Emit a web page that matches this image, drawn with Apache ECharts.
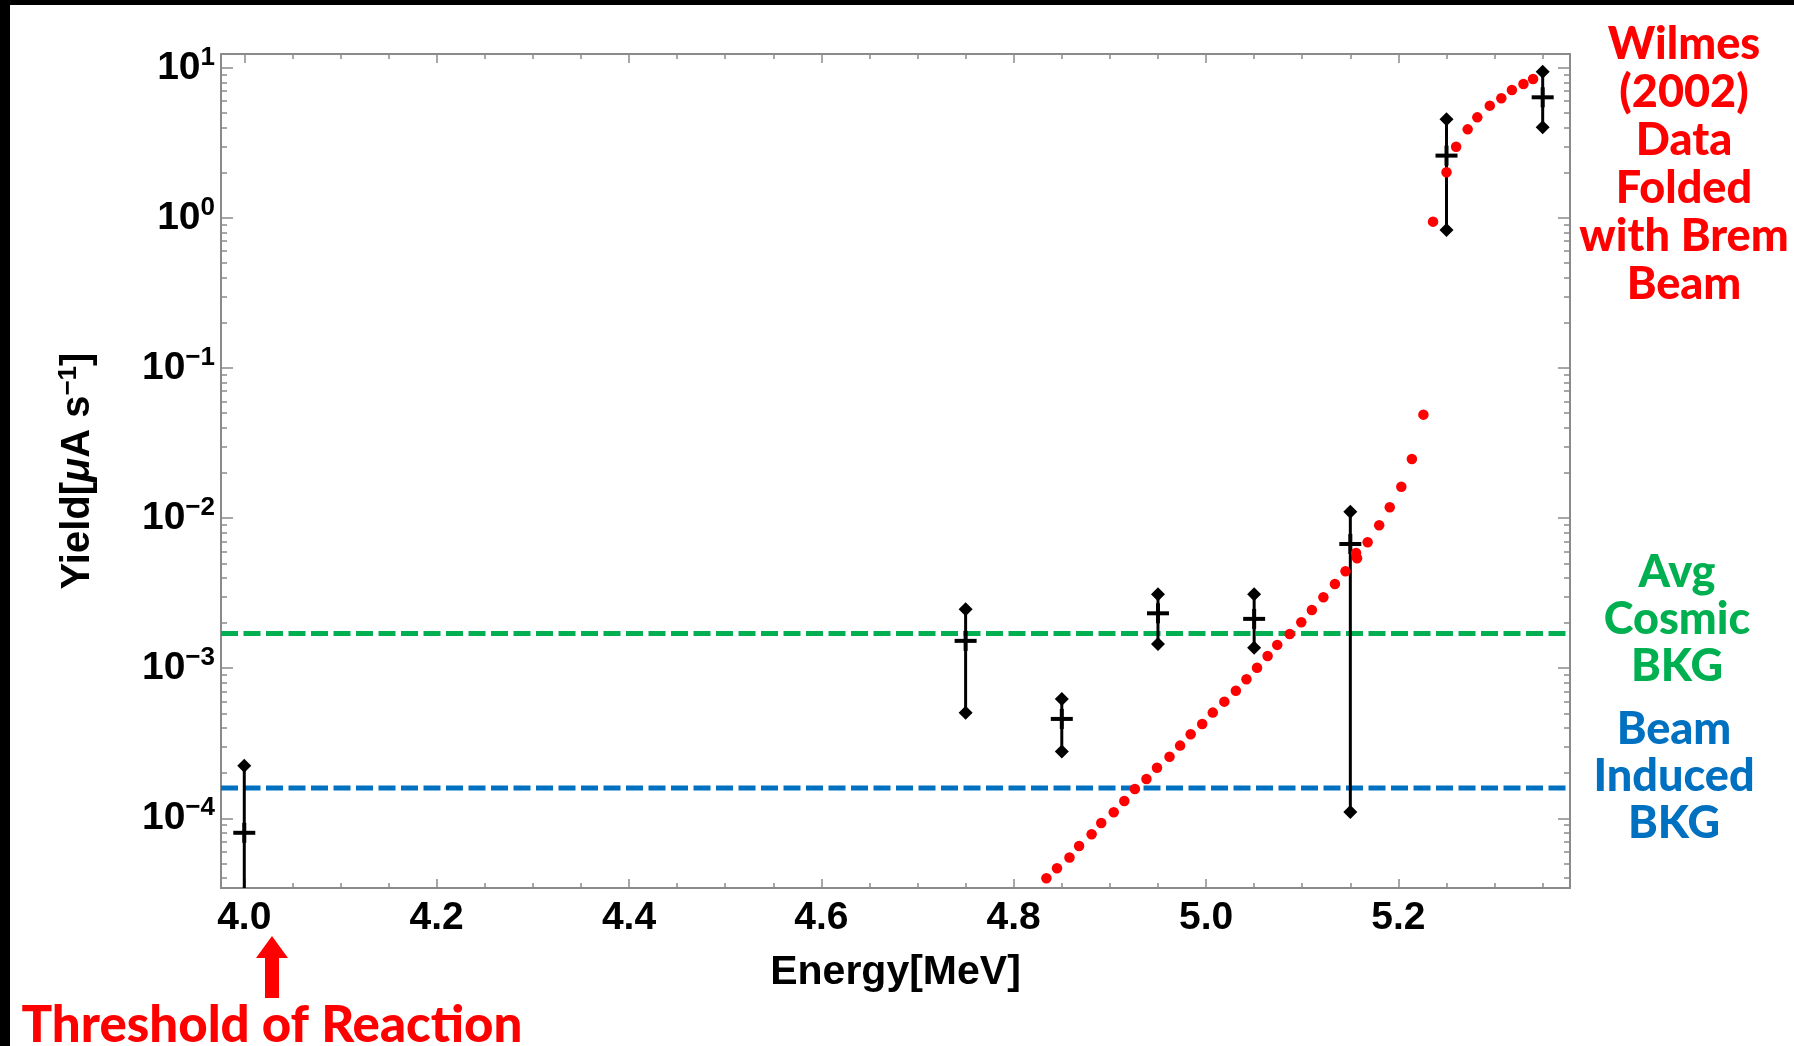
<!DOCTYPE html>
<html><head><meta charset="utf-8">
<script src="https://cdn.jsdelivr.net/npm/echarts@6/dist/echarts.min.js"></script>
<style>html,body{margin:0;padding:0;background:#fff;}#c{width:1794px;height:1046px;}</style>
</head><body><div id="c"></div>
<script>
// ---- axis ranges and tick labels ----
const xRange = [3.9758, 5.3784];
const yRange = [3.43e-5, 12.36];
const xTickLabels = [4.0, 4.2, 4.4, 4.6, 4.8, 5.0, 5.2];
const yTickLabels = [1e-4, 1e-3, 1e-2, 1e-1, 1e0, 1e1];

// ---- measured yields with error bars ----
const measE  = [4.00, 4.75, 4.85, 4.95, 5.05, 5.15, 5.25, 5.35];
const measY  = [8.0e-5, 1.52e-3, 4.59e-4, 2.32e-3, 2.13e-3, 6.72e-3, 2.60, 6.36];
const measHi = [2.24e-4, 2.47e-3, 6.23e-4, 3.11e-3, 3.11e-3, 1.10e-2, 4.54, 9.42];
const measLo = [1e-6, 5.05e-4, 2.78e-4, 1.45e-3, 1.37e-3, 1.10e-4, 0.83, 4.01];

// ---- Wilmes (2002) folded with brem beam ----
const wilmesE = [4.834, 4.845, 4.858, 4.868, 4.881, 4.891, 4.904, 4.915, 4.926, 4.938,
  4.949, 4.962, 4.973, 4.984, 4.996, 5.007, 5.019, 5.031, 5.042, 5.053,
  5.064, 5.074, 5.087, 5.099, 5.110, 5.122, 5.134, 5.145, 5.156, 5.157,
  5.168, 5.180, 5.191, 5.203, 5.214, 5.226, 5.236, 5.250, 5.260, 5.272,
  5.282, 5.295, 5.307, 5.318, 5.330, 5.340];
const wilmesY = [3.98e-5, 4.65e-5, 5.47e-5, 6.53e-5, 7.82e-5, 9.31e-5, 1.096e-4, 1.303e-4, 1.567e-4, 1.828e-4,
  2.173e-4, 2.570e-4, 3.048e-4, 3.631e-4, 4.246e-4, 5.058e-4, 5.984e-4, 7.079e-4, 8.433e-4, 1.007e-3,
  1.205e-3, 1.429e-3, 1.690e-3, 2.023e-3, 2.443e-3, 2.965e-3, 3.639e-3, 4.426e-3, 5.854e-3, 5.395e-3,
  6.902e-3, 8.954e-3, 1.180e-2, 1.618e-2, 2.477e-2, 4.887e-2, 0.944, 2.014, 2.979, 3.890,
  4.677, 5.598, 6.266, 7.112, 7.798, 8.414];

// ---- background levels ----
const cosmicBkg = 1.70e-3;
const beamBkg = 1.59e-4;

// ---- derived tick lists ----
const xMinor = [];
for (let i = 79; i <= 108; i++) { const v = +(i * 0.05).toFixed(2); if (v > xRange[0] && v < xRange[1]) xMinor.push(v); }
const yMinor = [];
for (let k = -5; k <= 1; k++) for (let m = 2; m <= 9; m++) { const v = +(m * Math.pow(10, k)).toPrecision(3); if (v > yRange[0] && v < yRange[1]) yMinor.push(v); }

const GRAY = '#8a8a8a';
const FONT = 'Liberation Sans';
const ANNOT = 'Lato';

function xAxisDef(pos, ticks, len, showLine, withLabels) {
  const a = {
    type: 'value', position: pos, min: xRange[0], max: xRange[1],
    axisLine: { show: showLine, onZero: false, lineStyle: { color: GRAY, width: 2 } },
    axisTick: { show: true, inside: true, length: len, customValues: ticks, lineStyle: { color: GRAY, width: 1.5 } },
    axisLabel: { show: false },
    splitLine: { show: false }
  };
  if (withLabels) {
    a.axisLabel = { show: true, customValues: xTickLabels, formatter: v => v.toFixed(1), color: '#000',
      fontSize: 39, fontWeight: 'bold', fontFamily: FONT, margin: 11 };
    a.name = 'Energy[MeV]';
    a.nameLocation = 'middle';
    a.nameGap = 64;
    a.nameTextStyle = { color: '#000', fontSize: 41, fontWeight: 'bold', fontFamily: FONT };
  }
  return a;
}
function yAxisDef(pos, ticks, len, showLine, withLabels) {
  const a = {
    type: 'log', logBase: 10, position: pos, min: yRange[0], max: yRange[1],
    axisLine: { show: showLine, onZero: false, lineStyle: { color: GRAY, width: 2 } },
    axisTick: { show: true, inside: true, length: len, customValues: ticks, lineStyle: { color: GRAY, width: 1.5 } },
    axisLabel: { show: false },
    splitLine: { show: false }
  };
  if (withLabels) {
    a.axisLabel = { show: true, customValues: yTickLabels, margin: 6,
      formatter: v => { const e = Math.round(Math.log10(v)); return '{b|10}{s|' + (e < 0 ? '\u2212' + (-e) : e) + '}'; },
      rich: {
        b: { fontSize: 39, fontWeight: 'bold', fontFamily: FONT, color: '#000', lineHeight: 38 },
        s: { fontSize: 26, fontWeight: 'bold', fontFamily: FONT, color: '#000', lineHeight: 26, padding: [0, 0, 20, 0] }
      } };
    a.name = '{n|Yield[}{m|\u03bc}{n|A s}{s|\u22121}{n|]}';
    a.nameLocation = 'middle';
    a.nameGap = 122;
    a.nameTextStyle = { rich: {
      n: { fontSize: 40, fontWeight: 'bold', fontFamily: FONT, color: '#000', lineHeight: 42 },
      m: { fontSize: 40, fontWeight: 'bold', fontStyle: 'italic', fontFamily: FONT, color: '#000', lineHeight: 42 },
      s: { fontSize: 26, fontWeight: 'bold', fontFamily: FONT, color: '#000', lineHeight: 26, padding: [0, 0, 19, 0] }
    } };
  }
  return a;
}

const chart = echarts.init(document.getElementById('c'), null, { renderer: 'canvas' });
chart.setOption({
  backgroundColor: '#ffffff',
  animation: false,
  grid: { left: 221, right: 224, top: 54, bottom: 158, containLabel: false, outerBoundsMode: 'none' },
  xAxis: [
    xAxisDef('bottom', xTickLabels, 9, true, true),
    xAxisDef('bottom', xMinor, 5, false, false),
    xAxisDef('top', xTickLabels, 9, true, false),
    xAxisDef('top', xMinor, 5, false, false)
  ],
  yAxis: [
    yAxisDef('left', yTickLabels, 12, true, true),
    yAxisDef('left', yMinor, 6, false, false),
    yAxisDef('right', yTickLabels, 12, true, false),
    yAxisDef('right', yMinor, 6, false, false)
  ],
  series: [
    { type: 'line', name: 'Avg Cosmic BKG', xAxisIndex: 0, yAxisIndex: 0, symbol: 'none', z: 2,
      data: [[xRange[0], cosmicBkg], [xRange[1], cosmicBkg]],
      lineStyle: { color: '#00b050', width: 5, type: [17, 5.5] } },
    { type: 'line', name: 'Beam Induced BKG', xAxisIndex: 0, yAxisIndex: 0, symbol: 'none', z: 2,
      data: [[xRange[0], beamBkg], [xRange[1], beamBkg]],
      lineStyle: { color: '#0070c0', width: 5, type: [17, 5.5] } },
    { type: 'custom', name: 'Measured', xAxisIndex: 0, yAxisIndex: 0, z: 3,
      data: measE.map((e, i) => [e, measY[i], measLo[i], measHi[i]]),
      encode: { x: 0, y: 1 },
      renderItem: function (params, api) {
        const cs = params.coordSys;
        const top = cs.y, bot = cs.y + cs.height;
        const clampY = v => Math.max(top, Math.min(bot, v));
        const pc = api.coord([api.value(0), api.value(1)]);
        const pl = api.coord([api.value(0), api.value(2)]);
        const ph = api.coord([api.value(0), api.value(3)]);
        const ch = [];
        ch.push({ type: 'line', shape: { x1: pc[0], y1: clampY(ph[1]), x2: pc[0], y2: clampY(pl[1]) }, style: { stroke: '#000', lineWidth: 3 } });
        [ph, pl].forEach(p => {
          if (p[1] >= top && p[1] <= bot) ch.push({ type: 'polygon',
            shape: { points: [[p[0], p[1] - 7], [p[0] + 7, p[1]], [p[0], p[1] + 7], [p[0] - 7, p[1]]] },
            style: { fill: '#000' } });
        });
        ch.push({ type: 'line', shape: { x1: pc[0] - 11, y1: pc[1], x2: pc[0] + 11, y2: pc[1] }, style: { stroke: '#000', lineWidth: 4 } });
        ch.push({ type: 'line', shape: { x1: pc[0], y1: pc[1] - 10, x2: pc[0], y2: pc[1] + 10 }, style: { stroke: '#000', lineWidth: 4 } });
        return { type: 'group', children: ch };
      } },
    { type: 'scatter', name: 'Wilmes (2002)', xAxisIndex: 0, yAxisIndex: 0, z: 4,
      symbol: 'circle', symbolSize: 10.5,
      data: wilmesE.map((e, i) => [e, wilmesY[i]]),
      itemStyle: { color: '#ff0000', opacity: 1 } }
  ],
  graphic: [
    { type: 'rect', shape: { x: 0, y: 0, width: 10, height: 1046 }, style: { fill: '#000' }, z: 100 },
    { type: 'rect', shape: { x: 0, y: 0, width: 1794, height: 5 }, style: { fill: '#000' }, z: 100 },
    { type: 'text', x: 1684, y: 20, z: 100, style: { text: 'Wilmes\n(2002)\nData\nFolded\nwith Brem\nBeam',
      fill: '#ff0000', font: '900 45px ' + ANNOT, lineHeight: 48, textAlign: 'center', textVerticalAlign: 'top' } },
    { type: 'text', x: 1677, y: 549, z: 100, style: { text: 'Avg\nCosmic\nBKG',
      fill: '#00b050', font: '900 45px ' + ANNOT, lineHeight: 47, textAlign: 'center', textVerticalAlign: 'top' } },
    { type: 'text', x: 1674, y: 706, z: 100, style: { text: 'Beam\nInduced\nBKG',
      fill: '#0070c0', font: '900 45px ' + ANNOT, lineHeight: 47, textAlign: 'center', textVerticalAlign: 'top' } },
    { type: 'text', x: 272, y: 1026, z: 100, style: { text: 'Threshold of Reaction',
      fill: '#ff0000', font: '900 51px ' + ANNOT, textAlign: 'center', textVerticalAlign: 'middle' } },
    { type: 'polygon', z: 100, shape: { points: [[272, 936], [288, 958], [279, 958], [279, 998], [265, 998], [265, 958], [256, 958]] },
      style: { fill: '#ff0000' } }
  ]
});
</script>
</body></html>
